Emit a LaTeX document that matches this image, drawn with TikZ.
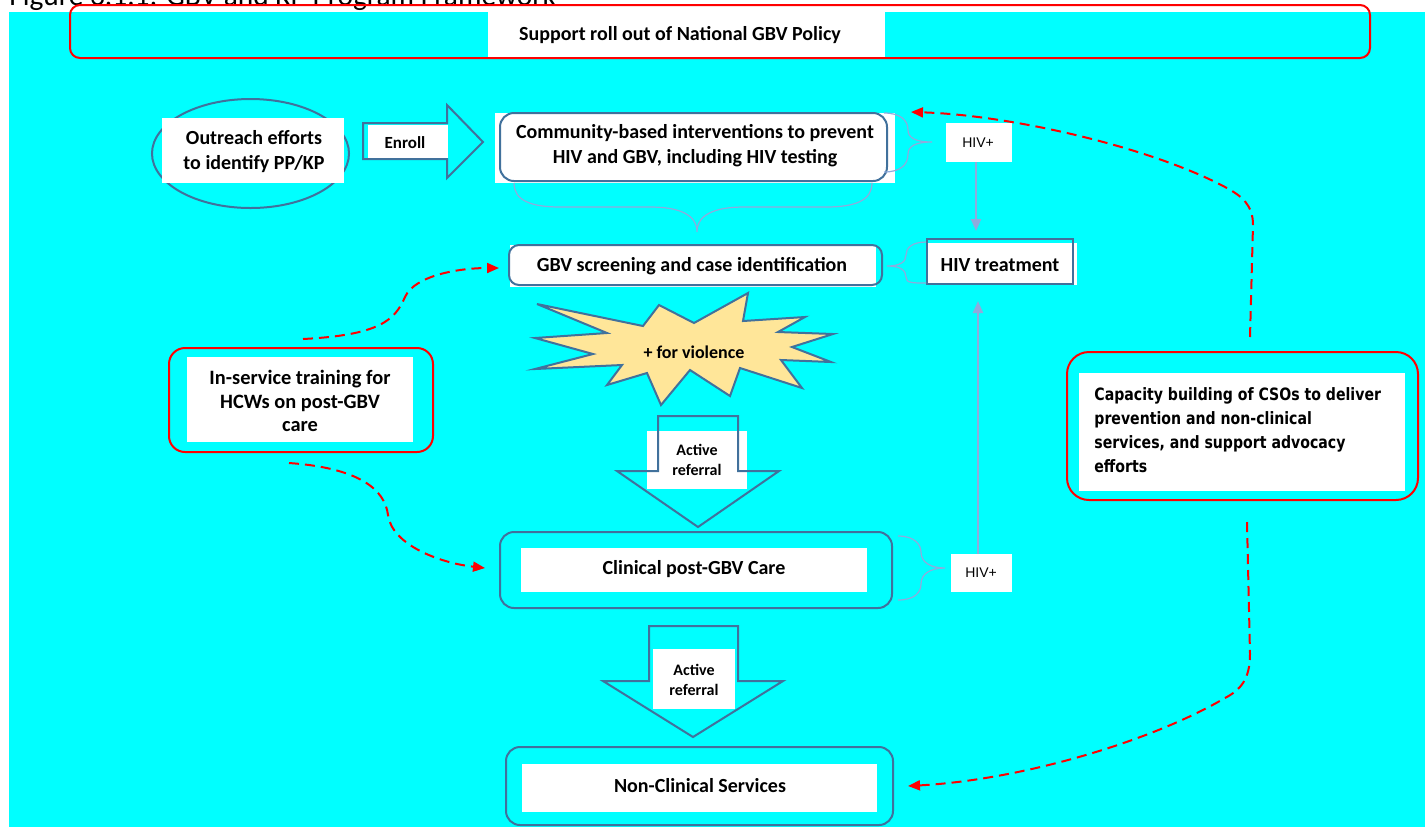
\documentclass[tikz,border=0pt]{standalone}
\usepackage{fontspec}
\setmainfont{Carlito}
\newfontfamily\arialfont{Liberation Sans}
\newfontfamily\capfont{DejaVu Sans}[FakeStretch=0.83]
\usetikzlibrary{shapes.geometric,arrows.meta,calc}
\definecolor{bgcyan}{HTML}{00FFFF}
\definecolor{boxblue}{HTML}{41719C}
\definecolor{lightblue}{HTML}{8FAADC}
\definecolor{starfill}{HTML}{FFE699}
\definecolor{redline}{HTML}{FF0000}
\begin{document}
\begin{tikzpicture}[x=0.5pt,y=-0.5pt,
  bfbody/.style={font=\bfseries\fontsize{10}{12.5}\selectfont, align=center, inner sep=0pt},
  whitebg/.style={fill=white, draw=none, inner sep=0pt},
  blueframe/.style={draw=boxblue, line width=1pt, inner sep=0pt},
  redframe/.style={draw=redline, line width=1pt, inner sep=0pt},
  blockarrow/.style={draw=boxblue, line width=1pt, line join=miter},
  bracecurve/.style={draw=lightblue, line width=0.6pt},
  hivarrow/.style={draw=lightblue, line width=1.1pt, -{Triangle[length=6pt,width=5pt]}},
  reddash/.style={draw=redline, line width=1pt, dash pattern=on 5pt off 3pt, -{Triangle[length=6pt,width=5pt]}},
  hivlabel/.style={font=\arialfont\fontsize{7}{8}\selectfont, inner sep=0pt},
  reftext/.style={font=\bfseries\fontsize{8}{10}\selectfont, align=center, inner sep=0pt}
]
\useasboundingbox (0,0) rectangle (1425,827);
\fill[white] (0,0) rectangle (1425,827);
\fill[bgcyan] (9,12) rectangle (1425,827);
\node[anchor=base west, font=\fontsize{14.7}{16}\selectfont, inner sep=0pt] (title) at (9,5) {Figure 3.1.1: GBV and KP Program Framework};

% policy
\node[redframe, rounded corners=5pt, minimum width=650pt, minimum height=26.5pt] (policyframe) at (720,31.5) {};
\node[whitebg, minimum width=198.5pt, minimum height=22.5pt] (policybg) at (686.5,34.5) {};
\node[bfbody] (policy) at (680,35) {Support roll out of National GBV Policy};

% outreach
\node[draw=boxblue, line width=1pt, ellipse, minimum width=98.5pt, minimum height=54.5pt, inner sep=0pt] (outreach) at (250.5,153.5) {};
\node[whitebg, minimum width=91pt, minimum height=32.5pt] (outreachbg) at (253,150.5) {};
\node[bfbody] (outreachtxt) at (254,152) {Outreach efforts\\to identify PP/KP};

% enroll arrow
\node[whitebg, minimum width=40pt, minimum height=17.5pt] (enrollbg) at (408,142.5) {};
\draw[blockarrow] (363,123) -- (447,123) -- (447,105) -- (483,142) -- (447,178) -- (447,159) -- (363,159) -- cycle;
\node[font=\bfseries\fontsize{8.5}{10}\selectfont, inner sep=0pt] (enroll) at (405,143) {Enroll};

% community
\node[whitebg, minimum width=200pt, minimum height=35pt] (commbg) at (695,148) {};
\node[blueframe, rounded corners=7pt, minimum width=193.5pt, minimum height=34pt] (comm) at (693.5,147) {};
\node[bfbody] (commtxt) at (695,146) {Community-based interventions to prevent\\HIV and GBV, including HIV testing};

% GBV screening
\node[whitebg, minimum width=183pt, minimum height=21pt] (gbvbg) at (693,266) {};
\node[blueframe, rounded corners=5pt, minimum width=186.5pt, minimum height=20pt] (gbv) at (695.5,265) {};
\node[bfbody] (gbvtxt) at (692,266) {GBV screening and case identification};

% HIV treatment
\node[whitebg, minimum width=75pt, minimum height=21pt] (treatbg) at (1002,264) {};
\node[blueframe, minimum width=73pt, minimum height=22.5pt] (treat) at (1000,261.5) {};
\node[font=\bfseries\fontsize{10}{12}\selectfont, inner sep=0pt] (treattxt) at (1000,265) {HIV treatment};

% HIV+ top
\node[whitebg, minimum width=33pt, minimum height=19.5pt] (hivtop) at (979,142.5) {};
\node[hivlabel] (hivtoptxt) at (978,143) {HIV+};

% star
\draw[draw=boxblue, fill=starfill, line width=1pt, line join=miter]
  (537,304) -- (643,326) -- (659,305) -- (694,323) -- (748,293) -- (743,321) -- (805,317) -- (778,332) -- (833,334) -- (792,347) -- (831,362) -- (781,360) -- (802,388) -- (740,368) -- (730,396) -- (690,370) -- (661,405) -- (647,373) -- (607,385) -- (622,365) -- (535,369) -- (593,354) -- (535,338) -- (607,333) -- cycle;
\node[font=\bfseries\fontsize{9}{11}\selectfont, inner sep=0pt] (star) at (694,352) {+ for violence};

% referral arrow 1
\node[whitebg, minimum width=50pt, minimum height=29pt] (ref1bg) at (697,460) {};
\draw[blockarrow] (658,416) -- (738,416) -- (738,471) -- (779,471) -- (698,527) -- (617,471) -- (658,471) -- cycle;
\node[reftext] (ref1) at (697,460) {Active\\referral};

% clinical
\node[blueframe, rounded corners=7pt, minimum width=196pt, minimum height=38pt] (clin) at (696,570) {};
\node[whitebg, minimum width=173pt, minimum height=22pt] (clinbg) at (694,570) {};
\node[bfbody] (clintxt) at (694,569) {Clinical post-GBV Care};

% HIV+ bottom
\node[whitebg, minimum width=30.5pt, minimum height=19pt] (hivbot) at (981.5,573) {};
\node[hivlabel] (hivbottxt) at (981,573) {HIV+};

% referral arrow 2
\node[whitebg, minimum width=41pt, minimum height=30pt] (ref2bg) at (694,679) {};
\draw[blockarrow] (649,626) -- (738,626) -- (738,681) -- (783,681) -- (693,737) -- (603,681) -- (649,681) -- cycle;
\node[reftext] (ref2) at (694,680) {Active\\referral};

% non-clinical
\node[blueframe, rounded corners=7pt, minimum width=193.5pt, minimum height=39pt] (nonclin) at (699.5,786) {};
\node[whitebg, minimum width=177.5pt, minimum height=24pt] (nonclinbg) at (699.5,788) {};
\node[bfbody] (nonclintxt) at (700,786) {Non-Clinical Services};

% in-service training
\node[redframe, rounded corners=8pt, minimum width=132pt, minimum height=52pt] (trainframe) at (301,400) {};
\node[whitebg, minimum width=113pt, minimum height=42.5pt] (trainbg) at (300,399.5) {};
\node[font=\bfseries\fontsize{10.2}{11.75}\selectfont, align=center, inner sep=0pt] (train) at (300,401) {In-service training for\\HCWs on post-GBV\\care};

% capacity building
\node[redframe, rounded corners=11pt, minimum width=175.5pt, minimum height=74pt] (capframe) at (1242.5,426) {};
\node[whitebg, minimum width=163pt, minimum height=59pt] (capbg) at (1242,432) {};
\node[font=\capfont\bfseries\fontsize{8.5}{12}\selectfont, align=left, anchor=north west, inner sep=0pt] (cap) at (1094,387) {Capacity building of CSOs to deliver\\prevention and non-clinical\\services, and support advocacy\\efforts};

% braces
\draw[bracecurve] (514,183) .. controls (514,200) and (530,207) .. (560,207) -- (650,207) .. controls (680,207) and (697,215) .. (697,232) .. controls (697,215) and (714,207) .. (744,207) -- (826,207) .. controls (856,207) and (872,200) .. (872,183);
\draw[bracecurve] (884,113) .. controls (900,113) and (908,120) .. (908,130) .. controls (908,138) and (916,142) .. (932,142) .. controls (916,142) and (908,146) .. (908,154) .. controls (908,165) and (900,172) .. (884,172);
\draw[bracecurve] (926,242) .. controls (912,242) and (906,248) .. (906,255) .. controls (906,262) and (900,266) .. (887,266) .. controls (900,266) and (906,270) .. (906,277) .. controls (906,283) and (912,283) .. (926,283);
\draw[bracecurve] (898,536) .. controls (915,536) and (921,545) .. (921,552) .. controls (921,562) and (930,568) .. (945,568) .. controls (930,568) and (921,574) .. (921,584) .. controls (921,592) and (915,600) .. (898,600);

% HIV arrows
\coordinate (hivx) at (976,0);
\coordinate (hivxb) at (978,0);
\draw[hivarrow] (hivtop.south -| hivx) -- ($(treat.north -| hivx)+(0,-7)$);
\draw[hivarrow] (hivbot.north -| hivxb) -- ($(treat.south -| hivxb)+(0,16)$);

% red dashed connectors
\coordinate (trainUp) at (303,339);
\coordinate (trainDown) at (289,463);
\coordinate (capUp) at (1250,337);
\coordinate (capDown) at (1247,522);
\draw[reddash] (trainUp) .. controls (380,335) and (395,320) .. (405,297) .. controls (415,275) and (460,268) .. ($(gbv.west)+(-9,3)$);
\draw[reddash] (trainDown) .. controls (360,468) and (385,490) .. (388,515) .. controls (392,545) and (440,563) .. ($(clin.west)+(-14,-2)$);
\draw[reddash] (capUp) -- (1253,225) .. controls (1253,205) and (1242,196) .. (1225,187) .. controls (1150,147) and (1010,115) .. ($(comm.north east)+(23,0)$);
\draw[reddash] (capDown) -- (1250,654) .. controls (1250,680) and (1240,690) .. (1225,698) .. controls (1150,742) and (1020,780) .. ($(nonclin.east)+(14,0)$);
\end{tikzpicture}
\end{document}
